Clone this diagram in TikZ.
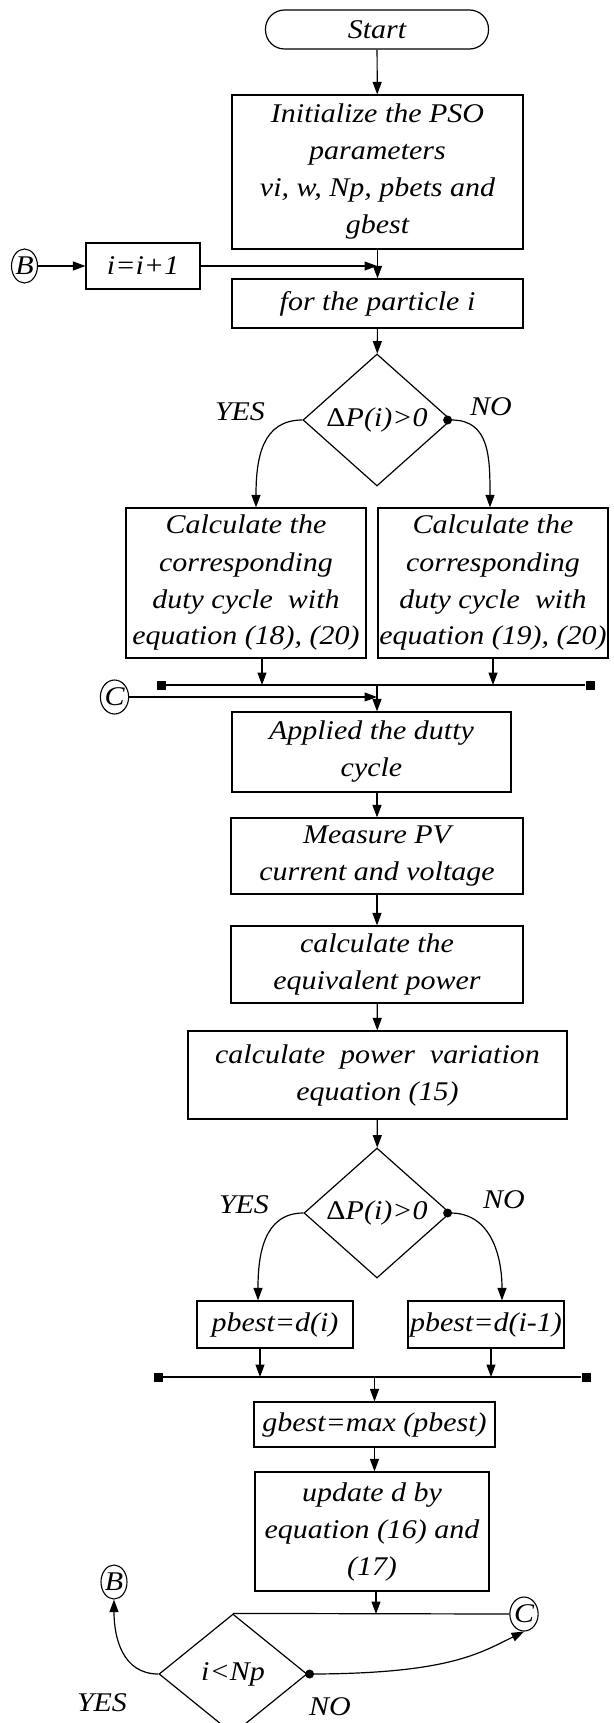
\documentclass[tikz,border=0pt]{standalone}
\usepackage{fontspec}
\setmainfont{Liberation Serif}[FakeStretch=1.11]
\usetikzlibrary{arrows.meta,shapes.geometric}

\begin{document}
\begin{tikzpicture}[x=1pt,y=-1pt,
  every node/.style={font=\fontsize{27}{37}\selectfont\itshape},
  box/.style={draw,line width=1.2pt,inner sep=0pt,align=center},
  term/.style={box,rounded corners=19pt},
  dec/.style={draw,diamond,line width=1.2pt,inner sep=0pt},
  conn/.style={draw,ellipse,line width=1.1pt,inner sep=0pt,minimum width=26pt,minimum height=34pt},
  arr/.style={line width=1.2pt,-{Triangle[length=12.5pt,width=9pt]}},
  ln/.style={line width=1.2pt},
  sq/.style={fill,rectangle,inner sep=0pt,minimum size=9pt},
  dot/.style={fill,circle,inner sep=0pt,minimum size=9pt},
  lbl/.style={inner sep=0pt}]

\useasboundingbox (0,0) rectangle (613,1723);
\fill[white] (0,0) rectangle (613,1723);
\clip (0,0) rectangle (613,1723);

% main column
\node[term,minimum width=223pt,minimum height=39pt] (start) at (377,29.5) {Start};
\node[box,minimum width=291pt,minimum height=154pt] (init) at (377.5,172)
  {Initialize the PSO\\parameters\\vi, w, Np, pbets and\\gbest};
\node[box,minimum width=114pt,minimum height=46pt] (inc) at (143,266) {i=i+1};
\node[conn] (B1) at (24.5,266) {B};
\coordinate (j1) at (377,266);
\node[box,minimum width=291pt,minimum height=49pt] (part) at (377.5,303.5) {for the particle i};

% first test
\node[dec,minimum width=148pt,minimum height=132pt] (d1) at (377,420) {{\upshape Δ}P(i)>0};
\node[lbl] (yes1) at (240,412) {YES};
\node[lbl] (no1) at (491,407) {NO};
\node[box,minimum width=240pt,minimum height=150pt] (calcL) at (246,583)
  {Calculate the\\corresponding\\duty cycle\ \ with\\equation (18), (20)};
\node[box,minimum width=230pt,minimum height=150pt] (calcR) at (493,583)
  {Calculate the\\corresponding\\duty cycle\ \ with\\equation (19), (20)};

% first junction bar
\node[sq] (s1L) at (161,685) {};
\node[sq] (s1R) at (590,685) {};
\coordinate (b1a) at (262,685);
\coordinate (b1b) at (493,685);
\coordinate (j2) at (377,685);
\node[conn] (C1) at (114.5,697) {C};
\coordinate (j3) at (377,697);

\node[box,minimum width=279pt,minimum height=80pt] (apply) at (371.5,752) {Applied the dutty\\cycle};
\node[box,minimum width=292pt,minimum height=76pt] (meas) at (377,856) {Measure PV\\current and voltage};
\node[box,minimum width=292pt,minimum height=77pt] (equiv) at (377,964.5) {calculate the\\equivalent power};
\node[box,minimum width=379pt,minimum height=88pt] (pvar) at (377.5,1075)
  {calculate\ \ power\ \ variation\\equation (15)};

% second test
\node[dec,minimum width=146pt,minimum height=130pt] (d2) at (377,1213) {{\upshape Δ}P(i)>0};
\node[lbl] (yes2) at (244,1205) {YES};
\node[lbl] (no2) at (504,1200) {NO};
\node[box,minimum width=156pt,minimum height=47pt] (pbL) at (275,1324.5) {pbest=d(i)};
\node[box,minimum width=156pt,minimum height=47pt] (pbR) at (486,1324.5) {pbest=d(i-1)};

% second junction bar
\node[sq] (s2L) at (158,1377) {};
\node[sq] (s2R) at (586,1377) {};
\coordinate (b2a) at (260,1377);
\coordinate (b2b) at (491,1377);
\coordinate (b2m) at (374.5,1377);

\node[box,minimum width=241pt,minimum height=45pt] (gbest) at (374.5,1424.5) {gbest=max (pbest)};
\node[box,minimum width=234pt,minimum height=119pt] (upd) at (372,1531.5)
  {update d by\\equation (16) and\\(17)};
\coordinate (j4) at (376,1614);

% loop test
\node[dec,minimum width=148pt,minimum height=120pt] (d3) at (233,1674) {i<Np};
\node[conn] (C2) at (524,1614) {C};
\node[conn] (B2) at (114,1582) {B};
\node[lbl] (yes3) at (102,1703) {YES};
\node[lbl] (no3) at (330,1707) {NO};

% connectors
\draw[arr] (start) -- (init);
\draw[arr] (init) -- (part);
\draw[arr] (B1) -- (inc);
\draw[arr] (inc.east) -- (j1);
\draw[arr] (part) -- (d1);
\draw[arr] (d1.west) .. controls +(-40,0) and +(0,-50) .. ([xshift=10pt]calcL.north);
\draw[arr] (d1.east) .. controls +(38,0) and +(0,-50) .. ([xshift=-3pt]calcR.north);
\node[dot] (dt1) at ([xshift=-4pt]d1.east) {};
\draw[ln] (s1L) -- (s1R);
\draw[arr] ([xshift=16pt]calcL.south) -- (b1a);
\draw[arr] (calcR.south) -- (b1b);
\draw[arr] (C1) -- (j3);
\draw[arr] (j2) -- (apply.north -| j2);
\draw[arr] (meas.north |- apply.south) -- (meas.north);
\draw[arr] (meas) -- (equiv);
\draw[arr] (equiv) -- (pvar);
\draw[arr] (pvar) -- (d2);
\draw[arr] (d2.west) .. controls +(-40,0) and +(0,-45) .. ([xshift=-17pt]pbL.north);
\draw[arr] (d2.east) .. controls +(40,0) and +(0,-45) .. ([xshift=16pt]pbR.north);
\node[dot] (dt2) at ([xshift=-3pt]d2.east) {};
\draw[ln] (s2L) -- (s2R);
\draw[arr] ([xshift=-15pt]pbL.south) -- (b2a);
\draw[arr] ([xshift=5pt]pbR.south) -- (b2b);
\draw[arr] (b2m) -- (gbest.north);
\draw[arr] (gbest.south) -- (gbest.south |- upd.north);
\draw[arr] (upd.south -| j4) -- (j4);
\draw[ln] (d3.north) -- (C2.west);
\draw[arr] (d3.west) .. controls +(-36,0) and +(0,38) .. (B2.south);
\draw[arr] (d3.east) .. controls +(140,0) and +(-45,22) .. (C2.south);
\node[dot] (dt3) at ([xshift=2pt]d3.east) {};
\end{tikzpicture}
\end{document}
